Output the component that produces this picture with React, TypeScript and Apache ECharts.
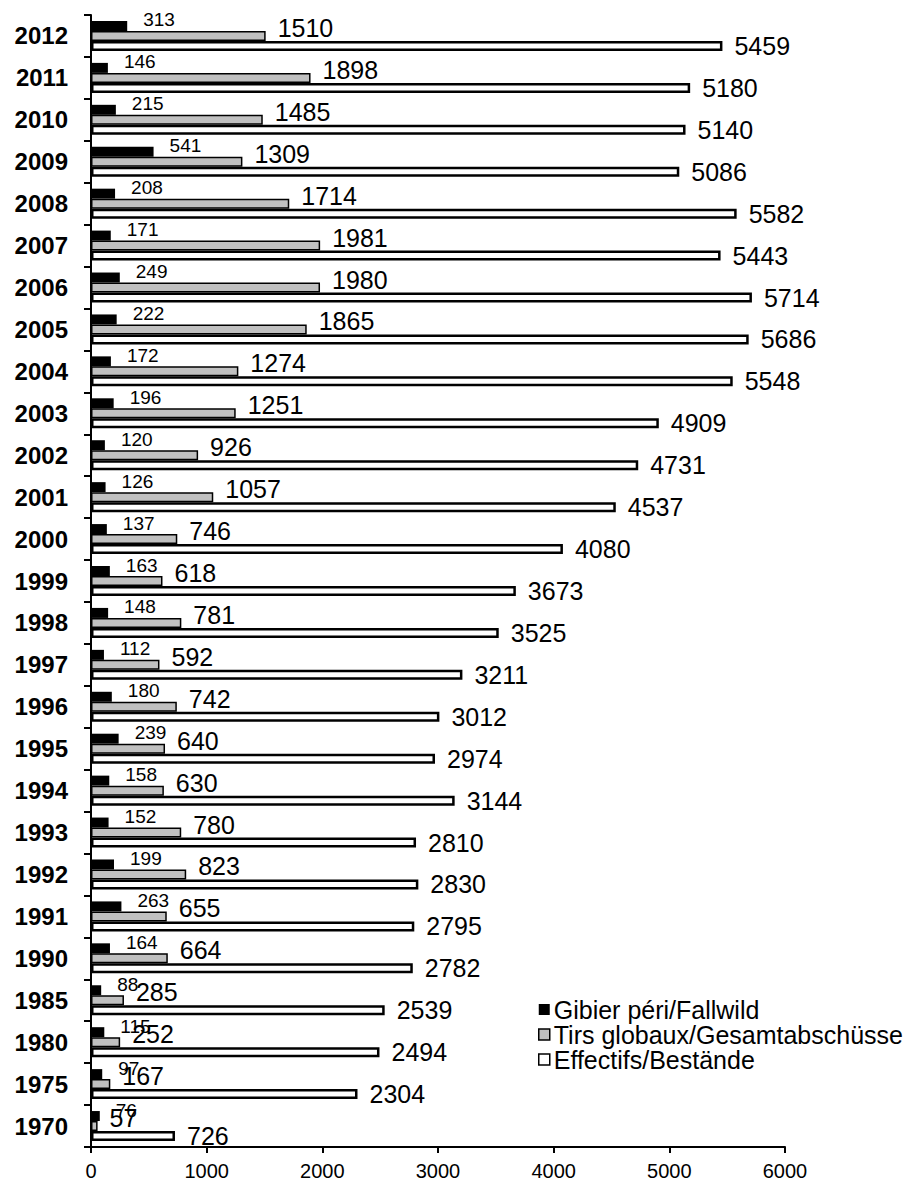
import React, { useEffect, useRef } from "react";
import * as echarts from "echarts";

const years = ["1970", "1975", "1980", "1985", "1990", "1991", "1992", "1993", "1994", "1995", "1996", "1997", "1998", "1999", "2000", "2001", "2002", "2003", "2004", "2005", "2006", "2007", "2008", "2009", "2010", "2011", "2012"];
const gibier = [76, 97, 115, 88, 164, 263, 199, 152, 158, 239, 180, 112, 148, 163, 137, 126, 120, 196, 172, 222, 249, 171, 208, 541, 215, 146, 313];
const tirs = [57, 167, 252, 285, 664, 655, 823, 780, 630, 640, 742, 592, 781, 618, 746, 1057, 926, 1251, 1274, 1865, 1980, 1981, 1714, 1309, 1485, 1898, 1510];
const effectifs = [726, 2304, 2494, 2539, 2782, 2795, 2830, 2810, 3144, 2974, 3012, 3211, 3525, 3673, 4080, 4537, 4731, 4909, 5548, 5686, 5714, 5443, 5582, 5086, 5140, 5180, 5459];
const xTicks = { min: 0, max: 6000, interval: 1000 };
const names = ["Gibier péri/Fallwild", "Tirs globaux/Gesamtabschüsse", "Effectifs/Bestände"];

const FONT = "'Liberation Sans', Arial, sans-serif";

export default function App() {
  const ref = useRef<HTMLDivElement>(null);
  useEffect(() => {
    if (!ref.current) return;
    const chart = echarts.init(ref.current, null, { renderer: "svg" });
    chart.setOption({
      animation: false,
      backgroundColor: "#fff",
      textStyle: { fontFamily: FONT },
      grid: { left: 91, right: 125, top: 15, bottom: 36, containLabel: false },
      legend: {
        orient: "vertical",
        left: 533,
        top: 992,
        itemWidth: 11,
        itemHeight: 11,
        itemGap: 0,
        icon: "rect",
        textStyle: { fontSize: 25, color: "#000", fontFamily: FONT, padding: [0, 0, 0, -1] },
        data: [
          { name: names[0], itemStyle: { color: "#000", borderColor: "#000", borderWidth: 0 } },
          { name: names[1], itemStyle: { color: "#c0c0c0", borderColor: "#000", borderWidth: 1.5 } },
          { name: names[2], itemStyle: { color: "#fff", borderColor: "#000", borderWidth: 1.5 } },
        ],
      },
      xAxis: {
        type: "value",
        min: xTicks.min,
        max: xTicks.max,
        interval: xTicks.interval,
        splitLine: { show: false },
        axisLine: { show: true, lineStyle: { color: "#000", width: 2 } },
        axisTick: { show: true, length: 6, lineStyle: { color: "#000", width: 2 } },
        axisLabel: { fontSize: 20, color: "#000", margin: 14, fontFamily: FONT, formatter: (v: number) => String(v) },
      },
      yAxis: {
        type: "category",
        data: years,
        axisLine: { show: true, lineStyle: { color: "#000", width: 2 } },
        axisTick: { show: true, length: 7, lineStyle: { color: "#000", width: 2 } },
        axisLabel: { fontSize: 24, color: "#000", margin: 23, fontWeight: "bold", fontFamily: FONT },
      },
      series: [
        {
          name: names[0],
          type: "bar",
          data: gibier,
          barWidth: 10,
          barGap: "0%",
          itemStyle: { color: "#000" },
          label: { show: true, position: "right", distance: 5, offset: [11, -6], fontSize: 19, color: "#000", fontFamily: FONT },
        },
        {
          name: names[1],
          type: "bar",
          data: tirs,
          barWidth: 10,
          barGap: "0%",
          itemStyle: { color: "#c0c0c0", borderColor: "#000", borderWidth: 1.5 },
          label: { show: true, position: "right", distance: 5, offset: [7, -8], fontSize: 25, color: "#000", fontFamily: FONT },
        },
        {
          name: names[2],
          type: "bar",
          data: effectifs,
          barWidth: 10,
          barGap: "0%",
          itemStyle: { color: "#fff", borderColor: "#000", borderWidth: 2.5 },
          label: { show: true, position: "right", distance: 5, offset: [7, 0], fontSize: 25, color: "#000", fontFamily: FONT },
        },
      ],
    });
    return () => chart.dispose();
  }, []);
  return <div ref={ref} style={{ position: "fixed", left: 0, top: 0, width: 910, height: 1183 }} />;
}
